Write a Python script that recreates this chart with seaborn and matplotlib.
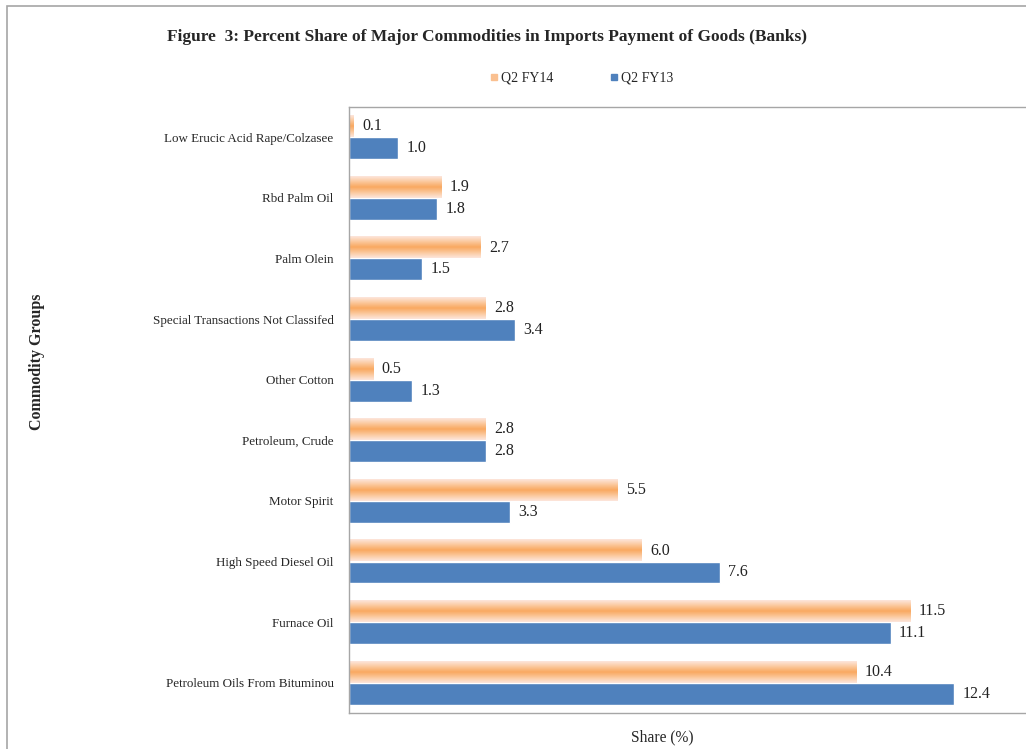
import numpy as np
import pandas as pd
import matplotlib
matplotlib.use("Agg")
import matplotlib.pyplot as plt
from matplotlib.colors import LinearSegmentedColormap
from matplotlib.lines import Line2D
from matplotlib.patches import Rectangle
import seaborn as sns

commodities = [
    "Low Erucic Acid Rape/Colzasee",
    "Rbd Palm Oil",
    "Palm Olein",
    "Special Transactions Not Classifed",
    "Other Cotton",
    "Petroleum, Crude",
    "Motor Spirit",
    "High Speed Diesel Oil",
    "Furnace Oil",
    "Petroleum Oils From Bituminou",
]
q2_fy14 = [0.1, 1.9, 2.7, 2.8, 0.5, 2.8, 5.5, 6.0, 11.5, 10.4]
q2_fy13 = [1.0, 1.8, 1.5, 3.4, 1.3, 2.8, 3.3, 7.6, 11.1, 12.4]
series = ["Q2 FY14", "Q2 FY13"]

blue = "#4F81BD"
orange = "#F9A860"

df = pd.DataFrame({
    "Commodity": commodities * 2,
    "Share": q2_fy14 + q2_fy13,
    "Period": [series[0]] * len(commodities) + [series[1]] * len(commodities),
})

sns.set_style("white")
plt.rcParams["font.family"] = ["Liberation Serif", "DejaVu Serif"]

fig = plt.figure(figsize=(10.26, 7.49), dpi=100)
ax = fig.add_axes([349 / 1026, 1 - 713 / 749, 1 - 349 / 1026, (713 - 107) / 749])

sns.barplot(data=df, y="Commodity", x="Share", hue="Period", hue_order=series,
            palette=[orange, blue], orient="h", width=0.72, saturation=1,
            ax=ax, legend=False)

# orange bars: horizontal gradient band (pale edges, saturated middle)
grad_cmap = LinearSegmentedColormap.from_list("og", ["#FDE6DC", "#FBC89C", orange, "#FBC89C", "#FDE6DC"])
grad = np.linspace(0, 1, 64).reshape(-1, 1)
for bar in ax.containers[0]:
    x0, y0 = bar.get_x(), bar.get_y()
    w, h = bar.get_width(), bar.get_height()
    ax.imshow(grad, extent=[x0, x0 + w, y0 + h, y0], aspect="auto", cmap=grad_cmap,
              zorder=2, interpolation="bilinear")
    bar.set_visible(False)

for cont in ax.containers:
    ax.bar_label(cont, fmt="%.1f", padding=6, fontsize=11.5, color="#222222")

ax.set_xlim(0, 13.87)
ax.set_ylim(len(commodities) - 0.5, -0.5)
ax.set_xticks([])
ax.tick_params(axis="y", length=0, labelsize=9.4, pad=11)
ax.set_ylabel("Commodity Groups", fontsize=11.5, fontweight="bold")
ax.yaxis.set_label_coords((45 - 349) / (1026 - 349), (713 - 362) / (713 - 107))
ax.set_xlabel("Share (%)", fontsize=11.2)
ax.xaxis.set_label_coords((662 - 349) / (1026 - 349), -0.027)

for side in ["left", "bottom", "top"]:
    ax.spines[side].set_visible(True)
    ax.spines[side].set_color("#A6A6A6")
    ax.spines[side].set_linewidth(1.0)
ax.spines["right"].set_visible(False)

fig.text(487 / 1026, 1 - 37 / 749,
         "Figure  3: Percent Share of Major Commodities in Imports Payment of Goods (Banks)",
         ha="center", va="center", fontsize=12.5, fontweight="bold")

handles = [Line2D([], [], marker="s", linestyle="none", markersize=4.5,
                  markerfacecolor=c, markeredgecolor=c) for c in ["#FAC090", blue]]
fig.legend(handles, series, loc="center", bbox_to_anchor=(581 / 1026, 1 - 78 / 749),
           ncol=2, frameon=False, fontsize=10, handletextpad=0.1, columnspacing=4.0,
           handlelength=0.8)

fig.patches.append(Rectangle((7 / 1026, -0.1), 1.2, 1.1 - 6 / 749, transform=fig.transFigure,
                             fill=False, edgecolor="#A6A6A6", linewidth=1.2))

fig.savefig("out.png", dpi=100)
